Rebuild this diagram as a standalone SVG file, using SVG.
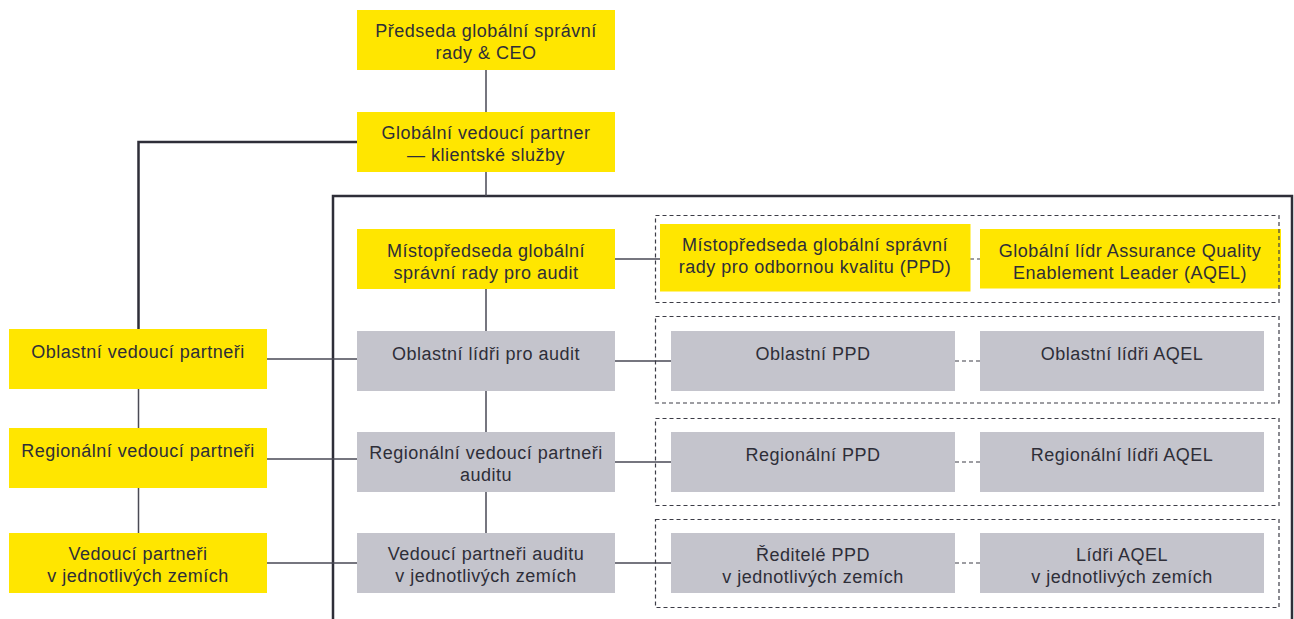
<svg xmlns="http://www.w3.org/2000/svg" width="1294" height="619" viewBox="0 0 1294 619">
<style>
  .y { fill: #FFE600; }
  .g { fill: #C4C4CC; }
  text { font-family: "Liberation Sans", Arial, sans-serif; font-size: 18px; fill: #2E2E38; text-anchor: middle; letter-spacing: 0.5px; }
  .ln { stroke: #4A4A55; stroke-width: 1.5; fill: none; }
  .dk { stroke: #2E2E38; stroke-width: 2.5; fill: none; }
  .dash { stroke: #3C3C46; stroke-width: 1.2; fill: none; stroke-dasharray: 4 3; }
</style>
<rect width="1294" height="619" fill="#FFFFFF"/>

<g id="connectors">
  <path class="dk" d="M333 619 V196 H1292 V619"/>
  <path class="dk" d="M357 142 H138.5 V329"/>
  <path class="ln" d="M486 70 V112 M486 172 V196 M486 289 V331 M486 391 V432 M486 492 V533"/>
  <path class="ln" d="M138.5 389 V428 M138.5 488 V533"/>
  <path class="ln" d="M267 359 H357 M267 459 H357 M267 563 H357"/>
  <path class="ln" d="M615 259 H660 M615 361 H671 M615 462 H671 M615 563 H671"/>
  <path class="dash" d="M970 259 H980 M955 361 H980 M955 462 H980 M955 563 H980"/>
</g>

<g id="n-predseda"><rect class="y" x="357" y="10" width="258" height="60"/>
  <text x="486" y="37">Předseda globální správní</text><text x="486" y="59">rady &amp; CEO</text></g>
<g id="n-globalni"><rect class="y" x="357" y="112" width="258" height="60"/>
  <text x="486" y="139">Globální vedoucí partner</text><text x="486" y="161">— klientské služby</text></g>
<g id="n-mistopredseda"><rect class="y" x="357" y="229" width="258" height="60"/>
  <text x="486" y="256.5">Místopředseda globální</text><text x="486" y="278.5">správní rady pro audit</text></g>
<g id="n-oblastni-lidri-audit"><rect class="g" x="357" y="331" width="258" height="60"/>
  <text x="486" y="360">Oblastní lídři pro audit</text></g>
<g id="n-regionalni-audit"><rect class="g" x="357" y="432" width="258" height="60"/>
  <text x="486" y="458.5">Regionální vedoucí partneři</text><text x="486" y="480.5">auditu</text></g>
<g id="n-vedouci-audit"><rect class="g" x="357" y="533" width="258" height="60"/>
  <text x="486" y="560">Vedoucí partneři auditu</text><text x="486" y="582">v jednotlivých zemích</text></g>

<g id="n-oblastni-vp"><rect class="y" x="9" y="329" width="258" height="60"/>
  <text x="138" y="358">Oblastní vedoucí partneři</text></g>
<g id="n-regionalni-vp"><rect class="y" x="9" y="428" width="258" height="60"/>
  <text x="138" y="457">Regionální vedoucí partneři</text></g>
<g id="n-vedouci-vp"><rect class="y" x="9" y="533" width="258" height="60"/>
  <text x="138" y="560">Vedoucí partneři</text><text x="138" y="582">v jednotlivých zemích</text></g>

<g id="n-ppd"><rect class="y" x="660" y="224" width="310.5" height="67.5"/>
  <text x="815" y="251">Místopředseda globální správní</text><text x="815" y="273">rady pro odbornou kvalitu (PPD)</text></g>
<g id="n-aqel"><rect class="y" x="980" y="229" width="301" height="59.5"/>
  <text x="1130" y="256.5">Globální lídr Assurance Quality</text><text x="1130" y="278.5">Enablement Leader (AQEL)</text></g>
<g id="n-oblastni-ppd"><rect class="g" x="671" y="331" width="284" height="60"/>
  <text x="813" y="359.5">Oblastní PPD</text></g>
<g id="n-oblastni-aqel"><rect class="g" x="980" y="331" width="284" height="60"/>
  <text x="1122" y="359.5">Oblastní lídři AQEL</text></g>
<g id="n-regionalni-ppd"><rect class="g" x="671" y="432" width="284" height="60"/>
  <text x="813" y="461">Regionální PPD</text></g>
<g id="n-regionalni-aqel"><rect class="g" x="980" y="432" width="284" height="60"/>
  <text x="1122" y="461">Regionální lídři AQEL</text></g>
<g id="n-reditele-ppd"><rect class="g" x="671" y="533" width="284" height="60"/>
  <text x="813" y="561">Ředitelé PPD</text><text x="813" y="583">v jednotlivých zemích</text></g>
<g id="n-lidri-aqel"><rect class="g" x="980" y="533" width="284" height="60"/>
  <text x="1122" y="561">Lídři AQEL</text><text x="1122" y="583">v jednotlivých zemích</text></g>

<g id="groups">
  <rect class="dash" x="655.5" y="215.5" width="623.5" height="87"/>
  <rect class="dash" x="655.5" y="316.5" width="623.5" height="86.5"/>
  <rect class="dash" x="655.5" y="418.5" width="623.5" height="87"/>
  <rect class="dash" x="655.5" y="519.5" width="623.5" height="88"/>
</g>
</svg>
